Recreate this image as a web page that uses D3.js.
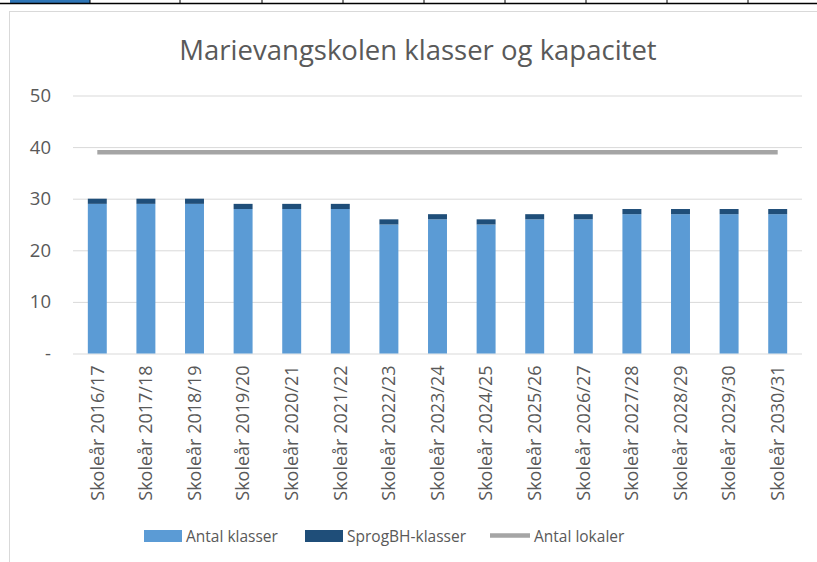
<!DOCTYPE html>
<html>
<head>
	<meta charset="utf-8">
	<script src="https://cdn.jsdelivr.net/npm/d3@7"></script>
	<style type="text/css">
		body { margin: 0; padding: 0; background: white; }
		svg { display: block; font-family: "Open Sans", sans-serif; }
	</style>
</head>
<body>
	<script type="text/javascript">

		// chart data
		var years = ["Skoleår 2016/17","Skoleår 2017/18","Skoleår 2018/19","Skoleår 2019/20","Skoleår 2020/21",
			"Skoleår 2021/22","Skoleår 2022/23","Skoleår 2023/24","Skoleår 2024/25","Skoleår 2025/26",
			"Skoleår 2026/27","Skoleår 2027/28","Skoleår 2028/29","Skoleår 2029/30","Skoleår 2030/31"];
		var antalKlasser = [29,29,29,28,28,28,25,26,25,26,26,27,27,27,27];
		var sprogKlasser = [1,1,1,1,1,1,1,1,1,1,1,1,1,1,1];
		var antalLokaler = [39,39,39,39,39,39,39,39,39,39,39,39,39,39,39];
		var yTicks = [0,10,20,30,40,50];
		var seriesNames = ["Antal klasser","SprogBH-klasser","Antal lokaler"];

		var W = 817, H = 562;
		var svg = d3.select("body").append("svg").attr("width", W).attr("height", H);

		// excel cell strip at top
		svg.append("rect").attr("x", 10).attr("y", 0).attr("width", 80).attr("height", 3).attr("fill", "#2e75b6");
		svg.append("line").attr("x1", 0).attr("x2", W).attr("y1", 3.5).attr("y2", 3.5).attr("stroke", "black").attr("stroke-width", 1.5);
		[90,180,262,343,424,505,586,667,748].forEach(function(x){
			svg.append("line").attr("x1", x).attr("x2", x).attr("y1", 0).attr("y2", 4).attr("stroke", "black");
		});

		// chart frame
		svg.append("rect").attr("x", 9.5).attr("y", 11.5).attr("width", W + 10).attr("height", H + 10)
			.attr("fill", "white").attr("stroke", "#d9d9d9");

		var x = d3.scaleBand().domain(years).range([73, 802]).paddingInner(0.61).paddingOuter(0.305);
		var y = d3.scaleLinear().domain([0, 50]).range([353.5, 95.5]);

		// title
		svg.append("text").attr("x", 418).attr("y", 60).attr("text-anchor", "middle")
			.style("font-size", "27.5px").style("fill", "#595959").text("Marievangskolen klasser og kapacitet");

		// y axis + gridlines
		var yAxis = svg.append("g").attr("transform", "translate(73,0)")
			.call(d3.axisLeft(y).tickValues(yTicks).tickSize(-729).tickPadding(22)
				.tickFormat(function(d){ return d === 0 ? "-" : d; }));
		yAxis.select(".domain").remove();
		yAxis.selectAll("line").attr("stroke", "#d9d9d9");
		yAxis.selectAll("text").style("font-size", "18.5px").style("fill", "#595959").attr("font-family", "Open Sans");

		// bars
		svg.append("g").selectAll("rect").data(years).enter().append("rect")
			.attr("x", function(d){ return x(d); })
			.attr("width", x.bandwidth())
			.attr("y", function(d, i){ return y(antalKlasser[i]); })
			.attr("height", function(d, i){ return y(0) - y(antalKlasser[i]); })
			.attr("fill", "#5b9bd5");
		svg.append("g").selectAll("rect").data(years).enter().append("rect")
			.attr("x", function(d){ return x(d); })
			.attr("width", x.bandwidth())
			.attr("y", function(d, i){ return y(antalKlasser[i] + sprogKlasser[i]); })
			.attr("height", function(d, i){ return y(antalKlasser[i]) - y(antalKlasser[i] + sprogKlasser[i]); })
			.attr("fill", "#1f4e79");

		// capacity line
		var line = d3.line()
			.x(function(d, i){ return x(years[i]) + x.bandwidth() / 2; })
			.y(function(d){ return y(d); });
		svg.append("path").datum(antalLokaler).attr("d", line)
			.attr("fill", "none").attr("stroke", "#a5a5a5").attr("stroke-width", 4.5);

		// x axis labels
		var xAxis = svg.append("g").attr("transform", "translate(0,353.5)")
			.call(d3.axisBottom(x).tickSize(0).tickPadding(0));
		xAxis.select(".domain").remove();
		xAxis.selectAll("text")
			.attr("transform", "rotate(-90)")
			.attr("x", -12).attr("y", 0).attr("dy", "0.35em")
			.style("text-anchor", "end")
			.style("font-size", "18px").style("fill", "#595959").attr("font-family", "Open Sans");

		// legend
		var legend = svg.append("g");
		var lx = [144, 305, 490];
		legend.append("rect").attr("x", lx[0]).attr("y", 530).attr("width", 38).attr("height", 12).attr("fill", "#5b9bd5");
		legend.append("rect").attr("x", lx[1]).attr("y", 530).attr("width", 38).attr("height", 12).attr("fill", "#1f4e79");
		legend.append("line").attr("x1", lx[2]).attr("x2", lx[2] + 40).attr("y1", 535.5).attr("y2", 535.5)
			.attr("stroke", "#a5a5a5").attr("stroke-width", 4.5);
		[0,1,2].forEach(function(i){
			legend.append("text").attr("x", lx[i] + (i == 2 ? 44 : 42)).attr("y", 542)
				.style("font-size", "15.5px").style("fill", "#595959").text(seriesNames[i]);
		});

	</script>
</body>
</html>
